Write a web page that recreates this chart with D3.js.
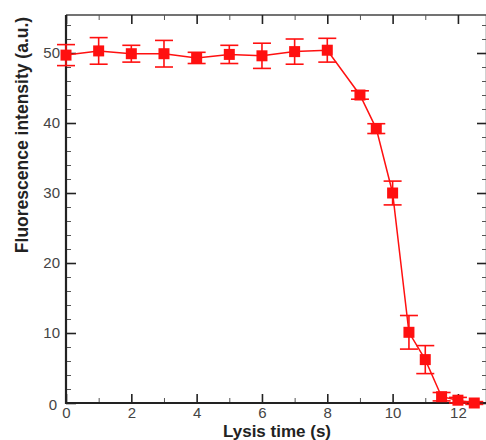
<!DOCTYPE html>
<html>
<head>
<meta charset="utf-8">
<script src="https://cdn.jsdelivr.net/npm/d3@7"></script>
<style>
  html, body { margin: 0; padding: 0; background: #fff; }
  svg { display: block; }
</style>
</head>
<body>
<script>
// Data
const times = [0, 1, 2, 3, 4, 5, 6, 7, 8, 9, 9.5, 10, 10.5, 11, 11.5, 12, 12.5];
const intensity = [49.7, 50.3, 49.9, 49.9, 49.3, 49.8, 49.6, 50.2, 50.4, 44.0, 39.2, 30.0, 10.1, 6.2, 0.9, 0.4, 0.0];
const errors = [1.5, 1.9, 1.2, 1.9, 0.8, 1.3, 1.8, 1.8, 1.7, 0.6, 0.7, 1.7, 2.4, 2.0, 0.6, 0.4, 0.2];
const xMajorTicks = [0, 2, 4, 6, 8, 10, 12];
const xMinorTicks = [1, 3, 5, 7, 9, 11];
const yMajorTicks = [0, 10, 20, 30, 40, 50];
const yMinorTicks = [2, 4, 6, 8, 12, 14, 16, 18, 22, 24, 26, 28, 32, 34, 36, 38, 42, 44, 46, 48, 52, 54];
const xLabel = "Lysis time (s)";
const yLabel = "Fluorescence intensity (a.u.)";

(function () {
const W = 486, H = 440;
const mL = 66, mR = 487, mT = 15, mB = 403;

const svg = d3.select("body").append("svg").attr("width", W).attr("height", H);

const x = d3.scaleLinear().domain([0, 12.89]).range([mL, mR]);
const y = d3.scaleLinear().domain([0, 55.43]).range([mB, mT]);

const axisColor = "#222";
const red = "#ff1010";
const font = "Arial, 'Liberation Sans', sans-serif";

// Frame: top and right
svg.append("line").attr("x1", mL).attr("x2", mR).attr("y1", mT).attr("y2", mT)
  .attr("stroke", "#444").attr("stroke-width", 1.5);
svg.append("line").attr("x1", mR - 0.5).attr("x2", mR - 0.5).attr("y1", mT).attr("y2", mB)
  .attr("stroke", "#444").attr("stroke-width", 1.5);

function styleTicks(g, major) {
  g.select(".domain").remove();
  g.selectAll(".tick line").attr("stroke", major ? axisColor : "#555").attr("stroke-width", major ? 1.6 : 1);
}

// Bottom axis
const gx = svg.append("g").attr("transform", `translate(0,${mB})`)
  .call(d3.axisBottom(x).tickValues(xMajorTicks).tickSize(-9).tickPadding(4.5).tickFormat(d3.format("d")));
styleTicks(gx, true);
gx.selectAll(".tick text").attr("fill", "#444").style("font-family", font).style("font-size", "15px");
styleTicks(svg.append("g").attr("transform", `translate(0,${mB})`)
  .call(d3.axisBottom(x).tickValues(xMinorTicks).tickSize(-5).tickFormat("")), false);

// Top axis ticks (inward)
styleTicks(svg.append("g").attr("transform", `translate(0,${mT})`)
  .call(d3.axisTop(x).tickValues(xMajorTicks).tickSize(-9).tickFormat("")), true);
styleTicks(svg.append("g").attr("transform", `translate(0,${mT})`)
  .call(d3.axisTop(x).tickValues(xMinorTicks).tickSize(-5).tickFormat("")), false);

// Left axis
const gy = svg.append("g").attr("transform", `translate(${mL},0)`)
  .call(d3.axisLeft(y).tickValues(yMajorTicks).tickSize(-10).tickPadding(6).tickFormat(d3.format("d")));
styleTicks(gy, true);
gy.selectAll(".tick text").attr("fill", "#444").style("font-family", font).style("font-size", "15px");
gy.selectAll(".tick").filter(d => d === 0).select("text").attr("dy", "0.4em").attr("x", -9);
styleTicks(svg.append("g").attr("transform", `translate(${mL},0)`)
  .call(d3.axisLeft(y).tickValues(yMinorTicks).tickSize(-5).tickFormat("")), false);

// Right axis ticks (inward)
styleTicks(svg.append("g").attr("transform", `translate(${mR},0)`)
  .call(d3.axisRight(y).tickValues(yMajorTicks).tickSize(-10).tickFormat("")), true);
styleTicks(svg.append("g").attr("transform", `translate(${mR},0)`)
  .call(d3.axisRight(y).tickValues(yMinorTicks).tickSize(-5).tickFormat("")), false);

// Main left & bottom axis lines
svg.append("line").attr("x1", mL).attr("x2", mL).attr("y1", mT).attr("y2", mB + 1)
  .attr("stroke", axisColor).attr("stroke-width", 2.2);
svg.append("line").attr("x1", mL - 1).attr("x2", mR).attr("y1", mB).attr("y2", mB)
  .attr("stroke", axisColor).attr("stroke-width", 2.2);

const pts = times.map((t, i) => ({ t, v: intensity[i], e: errors[i] }));

// Line
svg.append("path").datum(pts)
  .attr("fill", "none").attr("stroke", red).attr("stroke-width", 1.5)
  .attr("d", d3.line().x(d => x(d.t)).y(d => y(d.v)));

// Error bars
const eb = svg.append("g").attr("stroke", red).attr("stroke-width", 1.6);
const capW = 9;
pts.forEach(d => {
  eb.append("line").attr("x1", x(d.t)).attr("x2", x(d.t)).attr("y1", y(d.v - d.e)).attr("y2", y(d.v + d.e));
  eb.append("line").attr("x1", x(d.t) - capW).attr("x2", x(d.t) + capW).attr("y1", y(d.v + d.e)).attr("y2", y(d.v + d.e));
  eb.append("line").attr("x1", x(d.t) - capW).attr("x2", x(d.t) + capW).attr("y1", y(d.v - d.e)).attr("y2", y(d.v - d.e));
});

// Markers
const ms = 11;
svg.append("g").selectAll("rect").data(pts).join("rect")
  .attr("x", d => x(d.t) - ms / 2).attr("y", d => y(d.v) - ms / 2)
  .attr("width", ms).attr("height", ms).attr("fill", red);

// Axis labels
svg.append("text").attr("x", 277).attr("y", 437).attr("text-anchor", "middle")
  .style("font-family", font).style("font-weight", "bold")
  .style("font-size", "17px").attr("fill", "#222").text(xLabel);
svg.append("text").attr("transform", "translate(28,135) rotate(-90)").attr("text-anchor", "middle")
  .style("font-family", font).style("font-weight", "bold")
  .style("font-size", "17.5px").attr("fill", "#222").text(yLabel);
})();
</script>
</body>
</html>
